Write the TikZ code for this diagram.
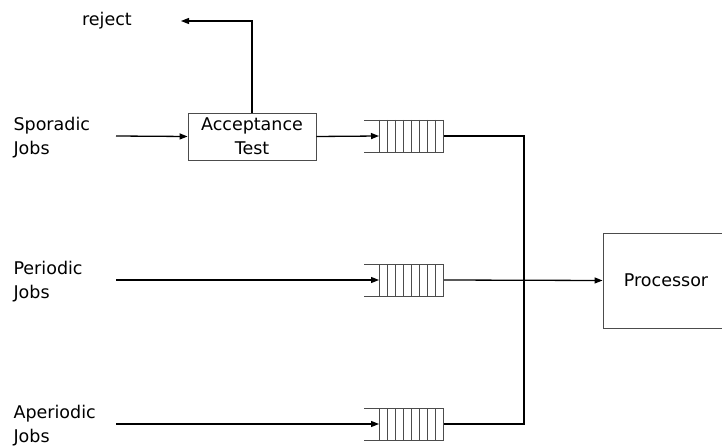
\documentclass[tikz,border=0pt]{standalone}
\usepackage{fontspec}
\setmainfont{DejaVu Sans}
\usetikzlibrary{arrows.meta}

\begin{document}
\begin{tikzpicture}[x=1pt, y=-1pt, >={Triangle[length=8pt,width=6pt]},
    font=\fontsize{17.5}{24}\selectfont,
    flow/.style={line width=1.3pt, black},
    box/.style={draw=black!70, line width=0.9pt, align=center, inner sep=0pt},
    qline/.style={line width=0.9pt, black!70}]
  \useasboundingbox (0,0) rectangle (722,446);
  % job sources
  \node[anchor=west, align=left] (spor) at (10,138) {Sporadic\\Jobs};
  \node[anchor=west, align=left] (peri) at (10,282) {Periodic\\Jobs};
  \node[anchor=west, align=left] (aper) at (10,426) {Aperiodic\\Jobs};
  \coordinate (s1) at (116,136);
  \coordinate (s2) at (116,280);
  \coordinate (s3) at (116,424);
  % acceptance test and reject
  \node[box, minimum width=128pt, minimum height=47pt] (acc) at (252,136.5) {Acceptance\\Test};
  \node (rejtxt) at (107,21) {reject};
  \coordinate (rej) at (181,21);
  % queues
  \foreach \n/\y in {1/136, 2/280, 3/424} {
    \draw[qline] (364,\y-16) -- (444,\y-16) (364,\y+16) -- (444,\y+16);
    \foreach \i in {0,...,8}
      \draw[qline] (379+8.1*\i,\y-16) -- (379+8.1*\i,\y+16);
    \coordinate (q\n in) at (379,\y);
    \coordinate (q\n out) at (444,\y);
  }
  % processor
  \node[box, minimum width=126pt, minimum height=95pt] (proc) at (666,280.5) {Processor};
  \coordinate (bus) at (524,280);
  % connectors
  \draw[flow,->] (s1) -- (acc.west);
  \draw[flow,->] (acc.north) |- (rej);
  \draw[flow,->] (acc.east) -- (q1in);
  \draw[flow,->] (s2) -- (q2in);
  \draw[flow,->] (s3) -- (q3in);
  \draw[flow] (q1out) -- (q1out -| bus) -- (q3out -| bus) -- (q3out);
  \draw[flow,->] (q2out) -- (proc.west);
\end{tikzpicture}
\end{document}
